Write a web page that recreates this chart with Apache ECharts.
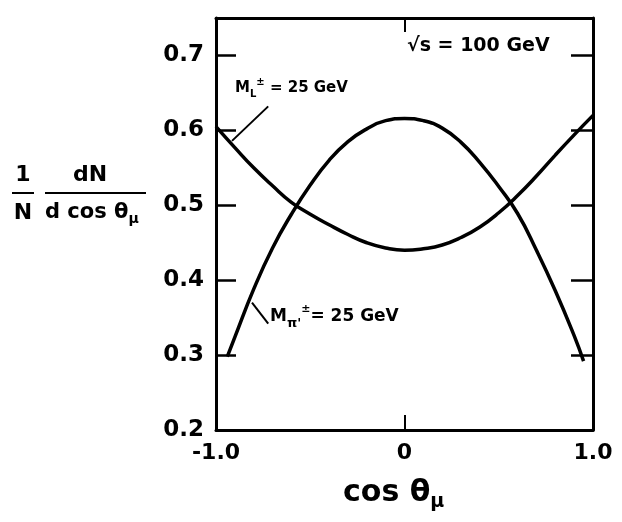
<!DOCTYPE html>
<html>
<head>
<meta charset="utf-8">
<script src="https://cdn.jsdelivr.net/npm/echarts@6/dist/echarts.min.js"></script>
<style>
  html, body { margin: 0; padding: 0; background: #fff; }
  #chart { width: 622px; height: 522px; }
</style>
</head>
<body>
<div id="chart"></div>
<script>
// curve: M_L+- = 25 GeV (U shape)
var lCosTheta = [-1.0, -0.9, -0.8, -0.7, -0.6, -0.5, -0.4, -0.3, -0.2, -0.1, 0,
                 0.1, 0.2, 0.3, 0.4, 0.5, 0.6, 0.7, 0.8, 0.9, 1.0];
var lValues   = [0.605, 0.577, 0.550, 0.526, 0.504, 0.488, 0.474, 0.461, 0.450, 0.443, 0.440,
                 0.442, 0.447, 0.457, 0.471, 0.490, 0.513, 0.539, 0.567, 0.594, 0.620];
// curve M_pi'+- = 25 GeV (cap shape)
var piCosTheta = [-0.94, -0.9, -0.8, -0.7, -0.6, -0.5, -0.4, -0.3, -0.2, -0.1, 0,
                  0.1, 0.2, 0.3, 0.4, 0.5, 0.6, 0.7, 0.8, 0.9, 0.95];
var piValues   = [0.298, 0.324, 0.388, 0.443, 0.488, 0.527, 0.560, 0.585, 0.602, 0.613, 0.616,
                  0.613, 0.603, 0.584, 0.557, 0.525, 0.489, 0.440, 0.386, 0.326, 0.292];
var xTickLabels = { '-1': '-1.0', '0': '0', '1': '1.0' };

var font = 'DejaVu Sans';

function pairs(xs, ys) {
  var out = [];
  for (var i = 0; i < xs.length; i++) out.push([xs[i], ys[i]]);
  return out;
}

var axisLine = { show: true, onZero: false, lineStyle: { color: '#000', width: 3 } };

var option = {
  animation: false,
  grid: { left: 216, top: 18, width: 377, height: 412, show: false },
  xAxis: [{
    type: 'value', min: -1, max: 1, interval: 1,
    axisLine: axisLine,
    axisTick: { show: true, inside: true, length: 15, lineStyle: { color: '#000', width: 2 } },
    splitLine: { show: false },
    axisLabel: {
      color: '#000', fontFamily: font, fontWeight: 'bold', fontSize: 22, margin: 12,
      formatter: function (v) { return xTickLabels[String(v)]; }
    }
  }, {
    type: 'value', position: 'top', min: -1, max: 1, interval: 1,
    axisLine: axisLine,
    axisTick: { show: true, inside: true, length: 14, lineStyle: { color: '#000', width: 2 } },
    splitLine: { show: false },
    axisLabel: { show: false }
  }],
  yAxis: [{
    type: 'value', min: 0.2, max: 0.75, interval: 0.1,
    axisLine: axisLine,
    axisTick: { show: true, inside: true, length: 20, lineStyle: { color: '#000', width: 2.5 } },
    splitLine: { show: false },
    axisLabel: {
      color: '#000', fontFamily: font, fontWeight: 'bold', fontSize: 23, margin: 12,
      showMaxLabel: false,
      formatter: function (v) { return v.toFixed(1); }
    }
  }, {
    type: 'value', position: 'right', min: 0.2, max: 0.75, interval: 0.1,
    axisLine: axisLine,
    axisTick: { show: true, inside: true, length: 22, lineStyle: { color: '#000', width: 2.5 } },
    splitLine: { show: false },
    axisLabel: { show: false }
  }],
  series: [{
    name: 'ML', type: 'line', smooth: true, symbol: 'none',
    lineStyle: { color: '#000', width: 3.5 },
    data: pairs(lCosTheta, lValues),
    markLine: {
      silent: true, symbol: ['none', 'none'], label: { show: false },
      lineStyle: { color: '#000', width: 2, type: 'solid' },
      data: [[{ coord: [-0.723, 0.632] }, { coord: [-0.915, 0.586] }]]
    }
  }, {
    name: 'Mpi', type: 'line', smooth: true, symbol: 'none',
    lineStyle: { color: '#000', width: 3.5 },
    data: pairs(piCosTheta, piValues),
    markLine: {
      silent: true, symbol: ['none', 'none'], label: { show: false },
      lineStyle: { color: '#000', width: 2, type: 'solid' },
      data: [[{ coord: [-0.809, 0.370] }, { coord: [-0.723, 0.342] }]]
    }
  }],
  graphic: [
    // y axis name: (1/N) dN / d cos theta_mu
    { type: 'text', x: 23, y: 175, style: { text: '1', font: 'bold 22px DejaVu Sans', fill: '#000', textAlign: 'center', textVerticalAlign: 'middle' } },
    { type: 'line', shape: { x1: 12, y1: 193, x2: 34, y2: 193 }, style: { stroke: '#000', lineWidth: 2 } },
    { type: 'text', x: 23, y: 213, style: { text: 'N', font: 'bold 22px DejaVu Sans', fill: '#000', textAlign: 'center', textVerticalAlign: 'middle' } },
    { type: 'text', x: 90, y: 175, style: { text: 'dN', font: 'bold 22px DejaVu Sans', fill: '#000', textAlign: 'center', textVerticalAlign: 'middle' } },
    { type: 'line', shape: { x1: 45, y1: 193, x2: 146, y2: 193 }, style: { stroke: '#000', lineWidth: 2 } },
    { type: 'text', x: 45, y: 202, style: {
      text: '{a|d cos θ}{s|μ}', fill: '#000',
      rich: {
        a: { fontFamily: font, fontWeight: 'bold', fontSize: 21, lineHeight: 24, verticalAlign: 'top' },
        s: { fontFamily: font, fontWeight: 'bold', fontSize: 14, lineHeight: 14, verticalAlign: 'bottom' }
      }
    } },
    // x axis name
    { type: 'text', x: 343, y: 478, style: {
      text: '{a|cos θ}{s|μ}', fill: '#000',
      rich: {
        a: { fontFamily: font, fontWeight: 'bold', fontSize: 30, lineHeight: 34, verticalAlign: 'top' },
        s: { fontFamily: font, fontWeight: 'bold', fontSize: 19, lineHeight: 19, verticalAlign: 'bottom' }
      }
    } },
    // sqrt(s) label
    { type: 'text', x: 407, y: 37, style: { text: '√s = 100 GeV', font: 'bold 19px DejaVu Sans', fill: '#000' } },
    // M_L label
    { type: 'text', x: 235, y: 77, style: {
      text: '{a|M}{s|L}{p|±}{a| = 25 GeV}', fill: '#000',
      rich: {
        a: { fontFamily: font, fontWeight: 'bold', fontSize: 15, lineHeight: 22, verticalAlign: 'middle' },
        s: { fontFamily: font, fontWeight: 'bold', fontSize: 10, lineHeight: 10, verticalAlign: 'bottom' },
        p: { fontFamily: font, fontWeight: 'bold', fontSize: 10, lineHeight: 10, verticalAlign: 'top' }
      }
    } },
    // M_pi' label
    { type: 'text', x: 270, y: 304, style: {
      text: "{a|M}{s|π'}{p|±}{a|= 25 GeV}", fill: '#000',
      rich: {
        a: { fontFamily: font, fontWeight: 'bold', fontSize: 17, lineHeight: 26, verticalAlign: 'middle' },
        s: { fontFamily: font, fontWeight: 'bold', fontSize: 13, lineHeight: 13, verticalAlign: 'bottom' },
        p: { fontFamily: font, fontWeight: 'bold', fontSize: 11, lineHeight: 11, verticalAlign: 'top' }
      }
    } }
  ]
};

var chart = echarts.init(document.getElementById('chart'));
chart.setOption(option);
</script>
</body>
</html>
